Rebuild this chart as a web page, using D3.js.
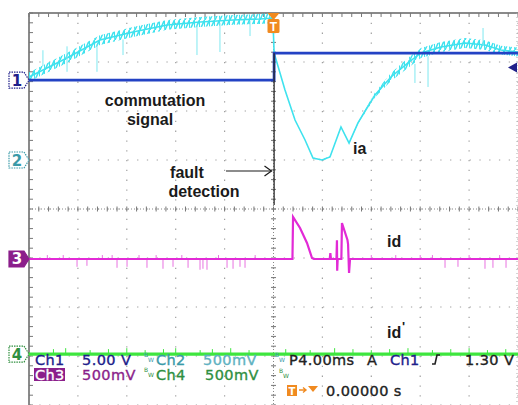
<!DOCTYPE html>
<html>
<head>
<meta charset="utf-8">
<script src="https://cdn.jsdelivr.net/npm/d3@7"></script>
<style>
  html, body { margin: 0; padding: 0; background: #fff; }
  svg { display: block; }
</style>
</head>
<body>
<div id="scope"></div>
<script>
// Oscilloscope capture - commutation fault, 4 channels

// time axis (ms), 4 ms/div, trigger at 0
const timeTicks = [-20, -16, -12, -8, -4, 0, 4, 8, 12, 16, 20];

// Ch1 commutation signal (V)
const ch1Time = [-20, 0.05, 0.05, 20];
const ch1Volts = [0, 0, 2.75, 2.75];

// Ch2 ia (mV), centre of trace and ripple half-width
const iaTime = [-20, -16.9, -14.2, -11.5, -8.7, -6.0, -3.3, -1.1, -0.05, 0.05, 0.94, 1.76, 2.58, 3.23, 3.97, 4.62, 5.52, 6.18, 6.91, 8.30, 9.61, 11.0, 12.06, 13.7, 15.67, 17.3, 18.6, 20];
const iaMv = [847, 1041, 1224, 1306, 1378, 1408, 1429, 1439, 1449, 1092, 714, 408, 204, 20, 0, 31, 337, 173, 378, 663, 847, 990, 1092, 1153, 1194, 1173, 1122, 1102];
const iaRipple = [45, 50, 50, 50, 50, 50, 50, 50, 50, 0, 0, 0, 0, 5, 8, 6, 5, 5, 10, 25, 40, 50, 50, 50, 50, 50, 45, 45];
// ia spikes: time, from, to (mV)
const iaSpikes = [
  [-18.86, 960, 1120], [-16.89, 900, 1160], [-14.44, 900, 1180], [-12.31, 1071, 1230],
  [-6.26, 1071, 1380], [-4.38, 1102, 1400], [-1.92, 1265, 1420],
  [11.57, 786, 980], [12.64, 745, 1060], [17.14, 1170, 1347]
];

// Ch3 id (mV)
const idTime = [-20, 1.55, 1.60, 2.17, 2.74, 3.15, 3.30, 4.60, 4.65, 4.70, 5.15, 5.19, 5.21, 5.25, 5.55, 5.60, 6.05, 6.10, 6.18, 6.26, 20];
const idMv = [0, 0, 429, 316, 163, 10, 0, 0, 60, 0, 0, 190, -120, 0, 0, 367, 194, 150, -143, 0, 0];
const idSpikeTime = [-18.5, -17.2, -16.07, -15.26, -14.0, -13.2, -12.8, -11.98, -11.0, -10.35, -9.6, -9.04, -8.22, -7.5, -6.99, -6.01, -5.77, -5.44, -4.5, -3.8, -3.31, -2.74, -2.33, -1.5, 8, 10, 12, 13, 14.03, 15.09, 16, 17.3, 17.95, 18.5, 19.02];
const idSpikeMv = [40, 40, -80, -70, 40, 40, -90, -80, 40, -90, 40, -100, -80, 40, -90, -110, -100, -110, 40, -90, -100, -80, -90, 40, 40, 40, 40, 40, -90, -80, 40, -100, -90, 40, -90];

// Ch4 id' (mV)
const id2Time = [-20, 20];
const id2Mv = [0, 0];
const id2SpikeTime = [-18, -17, -15, -13.5, -12, -10.5, -9, -8, -6, -5, -3.5, -2, 1, 3, 5, 6.5, 8, 9.5, 11, 13, 14.5, 16, 17.5, 19];
const id2SpikeMv = [50, 60, 40, 50, 60, 40, 50, 60, 40, 50, 60, 40, 50, 40, 60, 50, 40, 50, 60, 40, 50, 60, 40, 50];

// channel settings: offset (div), scale (mV/div)
const channels = [
  { id: 1, offset: 2.63, scale: 5000, color: '#2342c4', text: '#20208a' },
  { id: 2, offset: 1.0, scale: 500, color: '#3fe2ee', text: '#3a9aa8' },
  { id: 3, offset: -1.02, scale: 500, color: '#e22ad6', text: '#8b1f8b' },
  { id: 4, offset: -2.96, scale: 500, color: '#3ee63e', text: '#2f8f3f' }
];
const trigLevel = 1300; // mV on Ch1

const W = 518, H = 405;
const svg = d3.select('#scope').append('svg')
  .attr('width', W).attr('height', H)
  .style('font-family', '"Liberation Sans", Arial, sans-serif');

const x = d3.scaleLinear().domain([-20, 20]).range([29, 518]);
const y = d3.scaleLinear().domain([-4, 4]).range([405, 13]);
const divX = x(4) - x(0);
const divY = y(0) - y(1);
const chY = (ch, mv) => y(channels[ch - 1].offset + mv / channels[ch - 1].scale);

// ---- graticule ----
const grid = svg.append('g').attr('class', 'grid');
const minorX = d3.range(-20, 20.01, 0.8);
const minorY = d3.range(-4, 4.01, 0.2);

timeTicks.forEach(t => {
  grid.append('line')
    .attr('x1', x(t)).attr('x2', x(t)).attr('y1', 13).attr('y2', 405)
    .style('stroke', '#a0a0a0').style('stroke-width', 1.2)
    .style('stroke-dasharray', `1.3,${divY / 5 - 1.3}`);
});
d3.range(-4, 5).forEach(v => {
  grid.append('line')
    .attr('x1', 29).attr('x2', 518).attr('y1', y(v)).attr('y2', y(v))
    .style('stroke', '#a0a0a0').style('stroke-width', 1.2)
    .style('stroke-dasharray', `1.3,${divX / 5 - 1.3}`)
    .style('stroke-dashoffset', -0.5);
});

// centre axes with fine ticks
grid.append('line')
  .attr('x1', 29).attr('x2', 518).attr('y1', y(0)).attr('y2', y(0))
  .style('stroke', '#888').style('stroke-width', 1)
  .style('stroke-dasharray', '1,2');
grid.append('line')
  .attr('x1', x(0)).attr('x2', x(0)).attr('y1', 13).attr('y2', 405)
  .style('stroke', '#888').style('stroke-width', 1)
  .style('stroke-dasharray', '1,2');
grid.selectAll('.tx').data(minorX).enter().append('line')
  .attr('x1', d => x(d)).attr('x2', d => x(d))
  .attr('y1', y(0) - 2.5).attr('y2', y(0) + 2.5)
  .style('stroke', '#777').style('stroke-width', 1);
grid.selectAll('.ty').data(minorY).enter().append('line')
  .attr('x1', x(0) - 2.5).attr('x2', x(0) + 2.5)
  .attr('y1', d => y(d)).attr('y2', d => y(d))
  .style('stroke', '#777').style('stroke-width', 1);

// frame (top + left edge) with ticks
grid.append('line').attr('x1', 29).attr('x2', 518).attr('y1', 13).attr('y2', 13)
  .style('stroke', '#8a8a8a').style('stroke-width', 2);
grid.append('line').attr('x1', 29).attr('x2', 29).attr('y1', 13).attr('y2', 405)
  .style('stroke', '#8a8a8a').style('stroke-width', 2);
grid.selectAll('.fx').data(minorX).enter().append('line')
  .attr('x1', d => x(d)).attr('x2', d => x(d)).attr('y1', 13).attr('y2', 17)
  .style('stroke', '#777').style('stroke-width', 1);
grid.selectAll('.fy').data(minorY).enter().append('line')
  .attr('x1', 29).attr('x2', 33).attr('y1', d => y(d)).attr('y2', d => y(d))
  .style('stroke', '#777').style('stroke-width', 1);
grid.append('line').attr('x1', 517).attr('x2', 517).attr('y1', 13).attr('y2', 405)
  .style('stroke', '#aaa').style('stroke-width', 1).style('stroke-dasharray', '1,3');

// ---- traces ----
const traces = svg.append('g').attr('class', 'traces');

// ripple texture
const defs = svg.append('defs');
const pat = defs.append('pattern')
  .attr('id', 'ripple').attr('patternUnits', 'userSpaceOnUse')
  .attr('width', 5).attr('height', 10);
pat.append('path').attr('d', 'M0,10 L4.4,0 L5,10')
  .style('fill', 'none').style('stroke', channels[1].color).style('stroke-width', 1.5);

const line = d3.line();

// Ch4 id'
traces.append('path')
  .datum(id2Time.map((t, i) => [x(t), chY(4, id2Mv[i])]))
  .attr('d', line)
  .style('fill', 'none').style('stroke', channels[3].color).style('stroke-width', 3.2);
traces.selectAll('.s4').data(id2SpikeTime).enter().append('line')
  .attr('x1', d => x(d)).attr('x2', d => x(d))
  .attr('y1', chY(4, 0)).attr('y2', (d, i) => chY(4, id2SpikeMv[i]))
  .style('stroke', channels[3].color).style('stroke-width', 1);

// Ch3 id
traces.selectAll('.s3').data(idSpikeTime).enter().append('line')
  .attr('x1', d => x(d)).attr('x2', d => x(d))
  .attr('y1', chY(3, 0)).attr('y2', (d, i) => chY(3, idSpikeMv[i]))
  .style('stroke', '#e872e0').style('stroke-width', 1);
traces.append('path')
  .datum(idTime.map((t, i) => [x(t), chY(3, idMv[i])]))
  .attr('d', line)
  .style('fill', 'none').style('stroke', channels[2].color).style('stroke-width', 2.2);

// Ch2 ia
const iaPts = iaTime.map((t, i) => ({ t, v: iaMv[i], r: iaRipple[i] }));
traces.append('path')
  .datum(iaPts)
  .attr('d', d3.area().x(d => x(d.t)).y0(d => chY(2, d.v - d.r)).y1(d => chY(2, d.v + d.r)))
  .style('fill', 'url(#ripple)').style('stroke', 'none');
traces.append('path')
  .datum(iaPts)
  .attr('d', d3.line().x(d => x(d.t)).y(d => chY(2, d.v)))
  .style('fill', 'none').style('stroke', channels[1].color).style('stroke-width', 1.6);
traces.selectAll('.s2').data(iaSpikes).enter().append('line')
  .attr('x1', d => x(d[0])).attr('x2', d => x(d[0]))
  .attr('y1', d => chY(2, d[2])).attr('y2', d => chY(2, d[1]))
  .style('stroke', '#7fe8f0').style('stroke-width', 1);

// Ch1 commutation signal
traces.append('path')
  .datum(ch1Time.map((t, i) => [x(t), chY(1, ch1Volts[i] * 1000)]))
  .attr('d', line)
  .style('fill', 'none').style('stroke', channels[0].color).style('stroke-width', 2.8);

// ---- annotations ----
const ann = svg.append('g').attr('class', 'annotations')
  .style('font-weight', 'bold').style('font-size', '16px').style('fill', '#1a1a1a');

ann.append('line')
  .attr('x1', x(0.05)).attr('x2', x(0.05)).attr('y1', chY(1, 2750)).attr('y2', 205)
  .style('stroke', '#2a2a2a').style('stroke-width', 1.3);
ann.append('text').attr('x', 155).attr('y', 106).attr('text-anchor', 'middle').text('commutation');
ann.append('text').attr('x', 150).attr('y', 125).attr('text-anchor', 'middle').text('signal');
ann.append('text').attr('x', 187).attr('y', 178).attr('text-anchor', 'middle').text('fault');
ann.append('text').attr('x', 204).attr('y', 197).attr('text-anchor', 'middle').text('detection');
ann.append('line').attr('x1', 226).attr('x2', x(0) - 2).attr('y1', 171).attr('y2', 171)
  .style('stroke', '#1a1a1a').style('stroke-width', 1.2);
ann.append('path').attr('d', `M${x(0) - 9},166 L${x(0) - 2},171 L${x(0) - 9},176`)
  .style('fill', 'none').style('stroke', '#1a1a1a').style('stroke-width', 1.2);
ann.append('text').attr('x', 353).attr('y', 154).text('ia');
ann.append('text').attr('x', 387).attr('y', 247).text('id');
ann.append('text').attr('x', 387).attr('y', 338).text('id');
ann.append('text').attr('x', 402).attr('y', 331).style('font-size', '13px').text("'");

// ---- channel markers ----
const markers = svg.append('g').attr('class', 'markers');
channels.forEach(c => {
  const cy = y(c.offset);
  const g = markers.append('g');
  const filled = c.id === 3;
  g.append('path')
    .attr('d', `M9,${cy - 8} L24,${cy - 8} L29,${cy} L24,${cy + 8} L9,${cy + 8} Z`)
    .style('fill', filled ? c.text : '#fff')
    .style('stroke', c.text).style('stroke-width', 1.2)
    .style('stroke-dasharray', filled ? null : '1.5,1');
  g.append('text')
    .attr('x', 17).attr('y', cy + 5.5).attr('text-anchor', 'middle')
    .style('font-family', '"DejaVu Sans", sans-serif').style('font-size', '15px')
    .style('font-weight', 'bold')
    .style('fill', filled ? '#fff' : c.text)
    .text(c.id);
});

// trigger level arrow (right) and trigger position (top)
const ty = chY(1, trigLevel);
markers.append('path')
  .attr('d', `M508,${ty} L517,${ty - 5} L517,${ty + 5} Z`)
  .style('fill', channels[0].text);
markers.append('path')
  .attr('d', `M${x(0) - 6},13 L${x(0) + 6},13 L${x(0)},20 Z`)
  .style('fill', '#f08a20');
markers.append('rect')
  .attr('x', x(0) - 6).attr('y', 19).attr('width', 12).attr('height', 14).attr('rx', 1.5)
  .style('fill', '#f08a20');
markers.append('text')
  .attr('x', x(0)).attr('y', 31).attr('text-anchor', 'middle')
  .style('font-size', '12px').style('font-weight', 'bold').style('fill', '#fff').text('T');

// ---- status readout ----
const status = svg.append('g').attr('class', 'status')
  .style('font-family', '"DejaVu Sans", sans-serif').style('font-size', '14.5px')
  .style('letter-spacing', '0.4px').style('stroke-width', 0.35);

function bw(gx, gy, color) {
  status.append('text').attr('x', gx).attr('y', gy - 2)
    .style('font-size', '6px').style('letter-spacing', '0').style('fill', color).text('B');
  status.append('text').attr('x', gx + 4).attr('y', gy + 3)
    .style('font-size', '6px').style('letter-spacing', '0').style('fill', color).text('W');
}
function label(tx, ty, txt, color) {
  status.append('text').attr('x', tx).attr('y', ty)
    .style('fill', color).style('stroke', color).text(txt);
}

label(35, 365, 'Ch1', channels[0].text);
label(82, 365, '5.00 V', channels[0].text);
bw(144, 359, channels[1].text);
label(156, 365, 'Ch2', channels[1].text);
label(203, 365, '500mV', '#5fb2c2');
bw(275, 359, channels[1].text);
label(289, 365, 'P4.00ms', '#222');
label(367, 365, 'A', '#222');
label(390, 365, 'Ch1', channels[0].text);
status.append('path').attr('d', 'M432,364 L435,364 L437,355 L440,355')
  .style('fill', 'none').style('stroke', '#222').style('stroke-width', 1.6);
label(465, 365, '1.30 V', '#222');

status.append('rect').attr('x', 34).attr('y', 368).attr('width', 31).attr('height', 13)
  .style('fill', channels[2].text).style('stroke', 'none');
label(35, 380, 'Ch3', '#fff');
label(82, 380, '500mV', channels[2].text);
bw(144, 374, channels[3].text);
label(156, 380, 'Ch4', channels[3].text);
label(205, 380, '500mV', channels[3].text);
bw(279, 375, channels[3].text);

status.append('rect').attr('x', 287).attr('y', 385).attr('width', 10).attr('height', 11)
  .style('fill', '#f08a20').style('stroke', 'none');
status.append('text').attr('x', 292).attr('y', 395).attr('text-anchor', 'middle')
  .style('font-size', '10px').style('font-weight', 'bold').style('letter-spacing', '0')
  .style('fill', '#fff').text('T');
status.append('path').attr('d', 'M299,390 L306,390 M303,387.5 L306,390 L303,392.5')
  .style('fill', 'none').style('stroke', '#f08a20').style('stroke-width', 1.4);
status.append('path').attr('d', 'M308,386 L318,386 L313,392 Z').style('fill', '#f08a20').style('stroke', 'none');
label(326, 396, '0.00000 s', '#222');
</script>
</body>
</html>
